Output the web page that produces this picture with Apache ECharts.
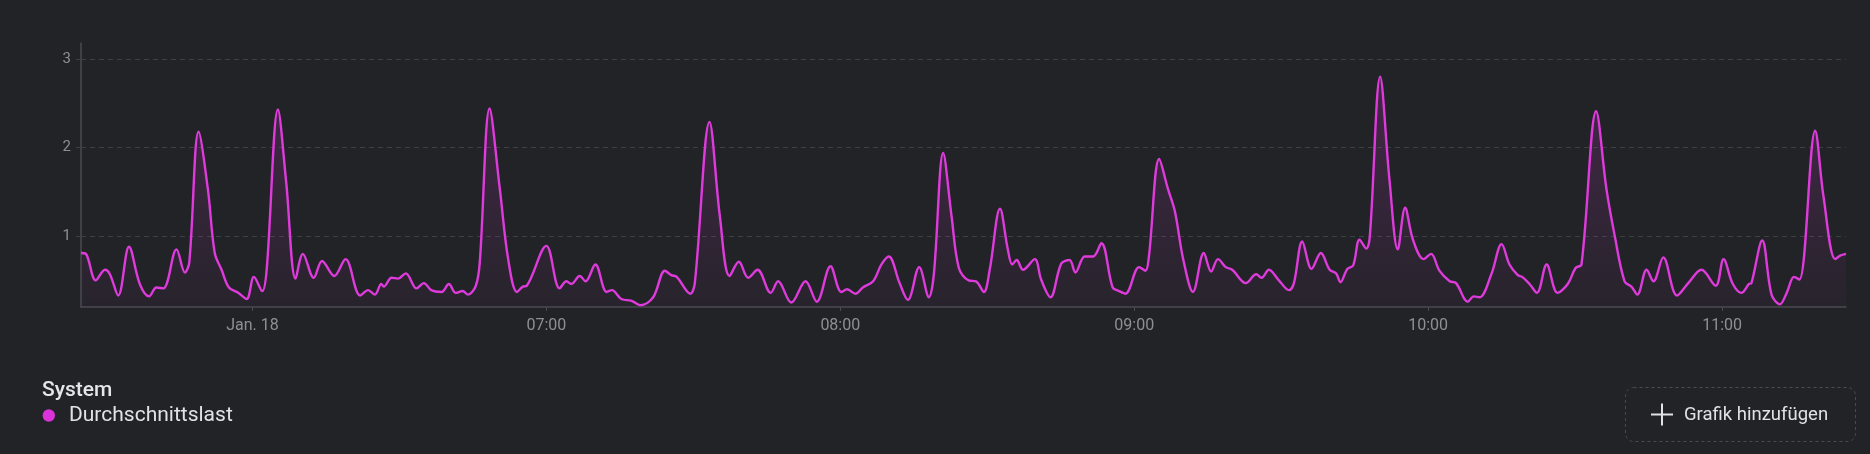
<!DOCTYPE html>
<html>
<head>
<meta charset="utf-8">
<script src="https://cdn.jsdelivr.net/npm/echarts@6/dist/echarts.min.js"></script>
<style>
  html, body { margin: 0; padding: 0; background: #222327; }
  #chart { width: 1870px; height: 454px; }
</style>
</head>
<body>
<div id="chart"></div>
<script>
// time of each sample, minutes since midnight (Jan. 18)
const minutes = [
  325.0, 326.0, 328.0, 329.9, 330.9, 332.6, 334.8, 337.0, 338.9, 340.4,
  341.8, 344.5, 346.2, 347.1, 349.0, 350.9, 352.3, 353.7, 355.2, 357.1,
  358.8, 360.3, 362.0, 362.9, 365.2, 366.9, 368.8, 370.3, 372.5, 374.2,
  376.7, 379.0, 382.0, 383.6, 385.0, 386.3, 386.8, 388.4, 389.7, 391.3,
  393.5, 395.0, 396.5, 398.6, 400.1, 401.5, 402.9, 404.0, 405.6, 406.4,
  408.4, 410.5, 412.2, 414.0, 415.2, 416.0, 420.0, 422.7, 424.1, 425.1,
  426.8, 428.0, 430.0, 432.3, 433.4, 435.3, 437.4, 439.2, 441.8, 444.2,
  445.5, 446.6, 449.4, 450.3, 453.3, 455.4, 457.4, 459.3, 461.2, 463.1,
  465.8, 467.3, 470.0, 472.9, 475.2, 478.0, 480.2, 481.4, 483.1, 484.6,
  486.7, 488.4, 489.9, 492.1, 493.8, 496.1, 498.1, 499.1, 501.0, 502.7,
  504.2, 506.2, 507.7, 509.3, 510.5, 512.6, 514.2, 515.1, 516.0, 517.3,
  519.7, 521.0, 522.9, 525.1, 526.8, 528.0, 529.9, 531.6, 533.3, 535.6,
  536.9, 538.2, 541.0, 542.3, 543.0, 545.1, 546.9, 548.3, 550.0, 552.0,
  554.2, 555.7, 557.1, 558.7, 560.0, 562.8, 564.9, 566.0, 567.5, 569.4,
  571.6, 572.6, 574.3, 576.2, 578.1, 579.9, 581.2, 582.1, 583.5, 584.7,
  586.0, 587.4, 588.1, 590.2, 592.1, 593.8, 595.3, 596.9, 599.1, 600.6,
  602.3, 604.4, 605.7, 608.1, 609.3, 610.5, 612.9, 615.0, 616.6, 618.3,
  619.2, 620.7, 622.2, 624.2, 626.4, 628.5, 630.1, 631.3, 634.3, 636.4,
  638.1, 640.1, 641.5, 642.7, 644.6, 646.0, 648.0, 650.8, 653.1, 655.8,
  658.7, 660.3, 662.2, 664.0, 665.5, 666.0, 668.2, 670.1, 671.8, 673.2,
  674.7, 675.8, 679.0, 680.7, 683.1, 684.1, 685.3
];

// Durchschnittslast
const loadAvg = [
  0.81, 0.80, 0.50, 0.62, 0.57, 0.33, 0.88, 0.46, 0.32, 0.42,
  0.41, 0.85, 0.59, 0.70, 2.18, 1.53, 0.81, 0.62, 0.42, 0.36,
  0.29, 0.54, 0.38, 0.62, 2.43, 1.60, 0.52, 0.80, 0.53, 0.72,
  0.55, 0.74, 0.33, 0.39, 0.34, 0.46, 0.43, 0.53, 0.52, 0.58,
  0.41, 0.47, 0.39, 0.37, 0.46, 0.36, 0.38, 0.34, 0.44, 0.70,
  2.44, 1.53, 0.74, 0.37, 0.43, 0.44, 0.89, 0.41, 0.49, 0.46,
  0.55, 0.49, 0.68, 0.37, 0.39, 0.29, 0.27, 0.22, 0.31, 0.61,
  0.56, 0.54, 0.35, 0.47, 2.29, 1.23, 0.55, 0.71, 0.53, 0.62,
  0.36, 0.49, 0.25, 0.49, 0.26, 0.66, 0.37, 0.40, 0.35, 0.42,
  0.49, 0.68, 0.77, 0.47, 0.28, 0.65, 0.31, 0.57, 1.94, 1.23,
  0.64, 0.50, 0.49, 0.37, 0.62, 1.31, 0.85, 0.68, 0.73, 0.62,
  0.74, 0.51, 0.31, 0.69, 0.73, 0.59, 0.77, 0.77, 0.92, 0.42,
  0.38, 0.35, 0.65, 0.61, 0.77, 1.87, 1.53, 1.28, 0.74, 0.37,
  0.81, 0.60, 0.74, 0.65, 0.62, 0.47, 0.57, 0.53, 0.62, 0.51,
  0.39, 0.47, 0.94, 0.63, 0.81, 0.62, 0.58, 0.48, 0.63, 0.67,
  0.96, 0.86, 1.00, 2.80, 1.64, 0.85, 1.32, 0.96, 0.74, 0.80,
  0.61, 0.49, 0.47, 0.26, 0.32, 0.31, 0.57, 0.91, 0.68, 0.56,
  0.54, 0.46, 0.36, 0.68, 0.36, 0.46, 0.64, 0.68, 2.41, 1.53,
  1.00, 0.49, 0.43, 0.34, 0.62, 0.49, 0.76, 0.33, 0.47, 0.62,
  0.44, 0.74, 0.46, 0.36, 0.46, 0.47, 0.95, 0.34, 0.23, 0.36,
  0.54, 0.51, 2.19, 1.45, 0.74, 0.78, 0.80
];

const xTickValues = [360, 420, 480, 540, 600, 660];
const xTickLabels = ["Jan. 18", "07:00", "08:00", "09:00", "10:00", "11:00"];
const yTickValues = [1, 2, 3];

const lineColor = "#df3bdc";
const axisColor = "#4a4b50";
const gridColor = "#3e3f44";
const labelColor = "#8e8f94";

const chart = echarts.init(document.getElementById("chart"));

chart.setOption({
  backgroundColor: "#222327",
  animation: false,
  grid: {
    left: 81,
    right: 24,
    top: 43,
    bottom: 147,
  },
  xAxis: {
    type: "value",
    min: 325,
    max: 685.3,
    axisLine: {
      lineStyle: { color: axisColor, width: 1.5 },
    },
    axisTick: {
      show: true,
      length: 4,
      customValues: xTickValues,
      lineStyle: { color: axisColor },
    },
    axisLabel: {
      customValues: xTickValues,
      color: labelColor,
      fontFamily: "Roboto",
      fontSize: 16,
      margin: 11,
      formatter: (val) => {
        const i = xTickValues.indexOf(val);
        return i >= 0 ? xTickLabels[i] : "";
      },
    },
    splitLine: { show: false },
  },
  yAxis: {
    type: "value",
    min: 0.2,
    max: 3.18,
    axisLine: {
      show: true,
      lineStyle: { color: axisColor, width: 1.5 },
    },
    axisTick: {
      show: true,
      length: 5,
      customValues: yTickValues,
      lineStyle: { color: gridColor },
    },
    axisLabel: {
      customValues: yTickValues,
      color: labelColor,
      fontFamily: "Roboto",
      fontSize: 15,
      margin: 10,
    },
    // grid lines drawn as markLines below, at the labelled values only
    splitLine: { show: false },
  },
  series: [
    {
      name: "Durchschnittslast",
      type: "line",
      data: minutes.map((m, i) => [m, loadAvg[i]]),
      showSymbol: false,
      smooth: 0.35,
      lineStyle: { color: lineColor, width: 2.4 },
      itemStyle: { color: lineColor },
      areaStyle: {
        color: new echarts.graphic.LinearGradient(0, 0, 0, 1, [
          { offset: 0, color: "rgba(223,59,220,0.26)" },
          { offset: 1, color: "rgba(223,59,220,0.04)" },
        ]),
      },
      markLine: {
        silent: true,
        symbol: "none",
        label: { show: false },
        lineStyle: { color: gridColor, type: [5, 4], width: 1 },
        z: 1,
        data: yTickValues.map((v) => ({ yAxis: v })),
      },
    },
  ],
  graphic: [
    {
      type: "text",
      x: 42,
      y: 391,
      style: {
        text: "System",
        fill: "#e6e6e8",
        font: "500 21px Roboto",
        verticalAlign: "middle",
      },
    },
    {
      type: "circle",
      shape: { cx: 48.8, cy: 415.5, r: 6.2 },
      style: { fill: "#d933d9" },
    },
    {
      type: "text",
      x: 69,
      y: 416,
      style: {
        text: "Durchschnittslast",
        fill: "#e2e2e4",
        font: "21px Roboto",
        verticalAlign: "middle",
      },
    },
    {
      type: "rect",
      shape: { x: 1625.5, y: 387.5, width: 230, height: 54, r: 8 },
      style: {
        fill: "none",
        stroke: "#4a4b50",
        lineWidth: 1,
        lineDash: [3, 3],
      },
    },
    {
      type: "line",
      shape: { x1: 1651, y1: 414.5, x2: 1673, y2: 414.5 },
      style: { stroke: "#e2e2e4", lineWidth: 2 },
    },
    {
      type: "line",
      shape: { x1: 1662, y1: 403.5, x2: 1662, y2: 425.5 },
      style: { stroke: "#e2e2e4", lineWidth: 2 },
    },
    {
      type: "text",
      x: 1684,
      y: 415,
      style: {
        text: "Grafik hinzufügen",
        fill: "#e2e2e4",
        font: "18.5px Roboto",
        verticalAlign: "middle",
      },
    },
  ],
});
</script>
</body>
</html>
